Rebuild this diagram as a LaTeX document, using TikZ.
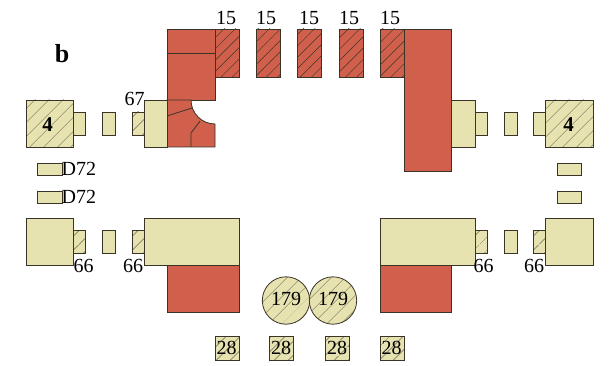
\documentclass[tikz,border=0pt]{standalone}
\usepackage{fontspec}
\setmainfont{Liberation Serif}
\usetikzlibrary{patterns.meta}
\definecolor{brick}{HTML}{D0604C}
\definecolor{sand}{HTML}{E7E3B1}
\definecolor{edge}{HTML}{3A3328}
\tikzset{
  brickbox/.style={draw=edge, line width=0.8pt, fill=brick},
  sandbox/.style={draw=edge, line width=0.8pt, fill=sand},
  hatchwide/.style={postaction={pattern={Lines[angle=45,distance=10.5pt,line width=0.45pt]},pattern color=edge}},
  hatchtight/.style={postaction={pattern={Lines[angle=45,distance=8pt,line width=0.45pt]},pattern color=edge}},
  lbl/.style={inner sep=0pt, font=\fontsize{20}{20}\selectfont},
  lblbold/.style={inner sep=0pt, font=\fontsize{21}{21}\selectfont\bfseries}
}
\begin{document}
\begin{tikzpicture}[x=1pt, y=-1pt]
\useasboundingbox (0,0) rectangle (612,366);
% top row
\draw[brickbox] (167,29) rectangle (215,100);
\draw[brickbox] (167,53) -- (215,53);
\foreach \xa in {215,256,297,339,380}
  \draw[brickbox, hatchtight] (\xa,29) rectangle ++(24,48);
\draw[brickbox] (404,29) rectangle (451,171);
% left column block
\draw[brickbox] (167,100) -- (191,100) arc[start angle=180, end angle=90, radius=24] -- (215,147) -- (167,147) -- cycle;
\draw[edge, line width=0.8pt] (167,116) -- (192,108);
\draw[edge, line width=0.8pt] (191,147) -- (191,133) -- (200,121);
% upper arms
\draw[sandbox, hatchwide] (26,100) rectangle (73,147);
\draw[sandbox] (73,112) rectangle (85,135);
\draw[sandbox] (102,112) rectangle (115,135);
\draw[sandbox, hatchwide] (132,112) rectangle (144,135);
\draw[sandbox] (144,100) rectangle (167,147);
\draw[sandbox] (451,100) rectangle (475,147);
\draw[sandbox] (475,112) rectangle (487,135);
\draw[sandbox] (504,112) rectangle (517,135);
\draw[sandbox] (533,112) rectangle (545,135);
\draw[sandbox, hatchwide] (545,100) rectangle (593,147);
% small bars
\draw[sandbox] (37,163) rectangle (62,175);
\draw[sandbox] (37,191) rectangle (62,203);
\draw[sandbox] (557,163) rectangle (581,175);
\draw[sandbox] (557,191) rectangle (581,203);
% lower arms
\draw[sandbox] (26,218) rectangle (73,265);
\draw[sandbox, hatchwide] (73,230) rectangle (85,253);
\draw[sandbox] (102,230) rectangle (115,253);
\draw[sandbox, hatchwide] (132,230) rectangle (144,253);
\draw[sandbox] (144,218) rectangle (239,265);
\draw[brickbox] (167,265) rectangle (239,312);
\draw[sandbox] (380,218) rectangle (475,265);
\draw[brickbox] (380,265) rectangle (451,312);
\draw[sandbox, hatchwide] (475,230) rectangle (487,253);
\draw[sandbox] (504,230) rectangle (517,253);
\draw[sandbox, hatchwide] (533,230) rectangle (545,253);
\draw[sandbox] (545,218) rectangle (593,265);
% circles and bottom row
\draw[sandbox, hatchwide] (286,300.5) circle[radius=23.7];
\draw[sandbox, hatchwide] (333,300.5) circle[radius=23.7];
\foreach \xa in {215,269,325,380}
  \draw[sandbox, hatchwide] (\xa,336) rectangle ++(24,24);
% labels
\node[lblbold, font=\fontsize{26}{26}\selectfont\bfseries] (panel) at (62,54) {b};
\node[lblbold] (leftfour) at (47.5,125) {4};
\node[lblbold] (rightfour) at (568.5,125) {4};
\node[lbl] (topa) at (226,18) {15};
\node[lbl] (topb) at (266,18) {15};
\node[lbl] (topc) at (309,18) {15};
\node[lbl] (topd) at (349,18) {15};
\node[lbl] (tope) at (390,18) {15};
\node[lbl] (arm) at (134.5,99) {67};
\node[lbl, anchor=west] (bara) at (61.5,169) {D72};
\node[lbl, anchor=west] (barb) at (61.5,197) {D72};
\node[lbl] (lowa) at (83.5,265.5) {66};
\node[lbl] (lowb) at (133,265.5) {66};
\node[lbl] (lowc) at (483.5,265.5) {66};
\node[lbl] (lowd) at (534,265.5) {66};
\node[lbl] (disca) at (286,299) {179};
\node[lbl] (discb) at (333,299) {179};
\node[lbl] (basea) at (226.5,348) {28};
\node[lbl] (baseb) at (281,348) {28};
\node[lbl] (basec) at (337,348) {28};
\node[lbl] (based) at (391.5,348) {28};
\end{tikzpicture}
\end{document}
